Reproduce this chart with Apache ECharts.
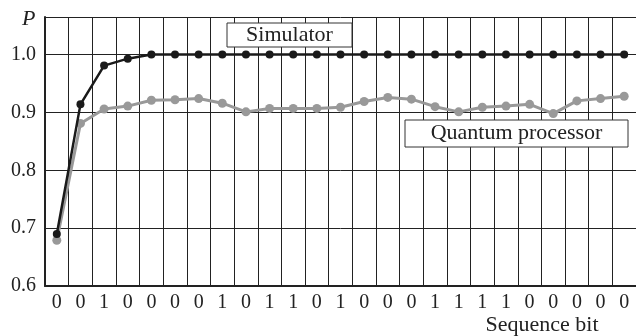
<!DOCTYPE html>
<html><head><meta charset="utf-8">
<script src="https://cdn.jsdelivr.net/npm/echarts@6/dist/echarts.min.js"></script>
<style>html,body{margin:0;padding:0;background:#fff}#c{width:636px;height:336px}</style>
</head><body><div id="c"></div>
<script>
const categories = ['0','0','1','0','0','0','0','1','0','1','1','0','1','0','0','0','1','1','1','1','0','0','0','0','0'];
const simulator = [0.690,0.914,0.981,0.993,1.0,1.0,1.0,1.0,1.0,1.0,1.0,1.0,1.0,1.0,1.0,1.0,1.0,1.0,1.0,1.0,1.0,1.0,1.0,1.0,1.0];
const quantum = [0.679,0.881,0.906,0.911,0.921,0.922,0.924,0.916,0.901,0.907,0.907,0.907,0.909,0.919,0.926,0.923,0.910,0.901,0.909,0.911,0.914,0.898,0.920,0.924,0.928];
const yTicks = [0.6,0.7,0.8,0.9,1.0];

const F = '"Liberation Serif", "DejaVu Serif", serif';
const chart = echarts.init(document.getElementById('c'), null, {renderer:'canvas'});
chart.setOption({
  animation:false,
  backgroundColor:'#fff',
  grid:{left:45, top:17, width:595, height:269},
  xAxis:{
    type:'category', data:categories, boundaryGap:true,
    axisLine:{show:true, lineStyle:{color:'#222', width:2}},
    axisTick:{show:false},
    axisLabel:{color:'#222', fontFamily:F, fontSize:20, margin:7, interval:0},
    splitLine:{show:true, interval:0, lineStyle:{color:'#222', width:1}}
  },
  yAxis:{
    type:'value', min:0.6, max:1.065, interval:0.1,
    axisLine:{show:true, lineStyle:{color:'#222', width:2}},
    axisTick:{show:false},
    axisLabel:{color:'#222', fontFamily:F, fontSize:20, margin:9,
      formatter:function(v){ return yTicks.some(t=>Math.abs(t-v)<1e-6) ? v.toFixed(1) : ''; }},
    splitLine:{show:true, lineStyle:{color:'#222', width:1}}
  },
  series:[
    {name:'Quantum processor', type:'line', data:quantum, z:2,
     symbol:'circle', symbolSize:9,
     lineStyle:{color:'#999', width:3}, itemStyle:{color:'#999'}},
    {name:'Simulator', type:'line', data:simulator, z:3,
     symbol:'circle', symbolSize:8,
     lineStyle:{color:'#1a1a1a', width:2.5}, itemStyle:{color:'#1a1a1a'}}
  ],
  graphic:[
    {type:'text', left:22, top:8, style:{text:'P', font:'italic 22px '+F, fill:'#222'}},
    {type:'rect', shape:{x:227, y:23, width:125, height:24}, style:{fill:'#fff', stroke:'#333', lineWidth:1}, z:10},
    {type:'text', x:289.5, y:35, style:{text:'Simulator', font:'22px '+F, fill:'#222', align:'center', verticalAlign:'middle'}, z:11},
    {type:'rect', shape:{x:405, y:120, width:223, height:27}, style:{fill:'#fff', stroke:'#333', lineWidth:1}, z:10},
    {type:'text', x:516.5, y:133.5, style:{text:'Quantum processor', font:'22px '+F, fill:'#222', align:'center', verticalAlign:'middle'}, z:11},
    {type:'text', x:542, y:325, style:{text:'Sequence bit', font:'22px '+F, fill:'#222', align:'center', verticalAlign:'middle'}}
  ]
});
</script></body></html>
